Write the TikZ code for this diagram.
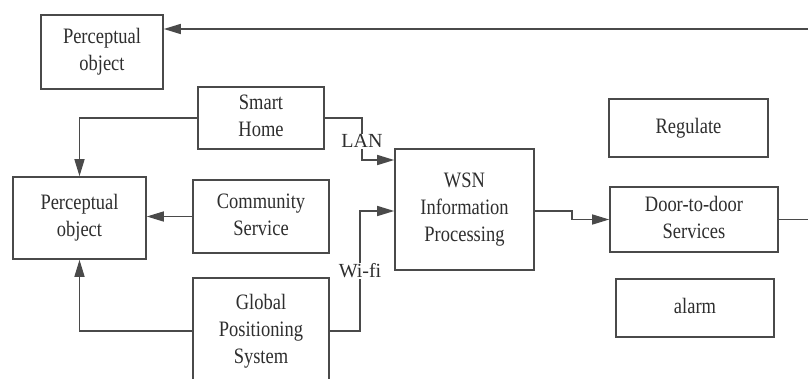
\documentclass[tikz,border=0pt]{standalone}
\usepackage{fontspec}
\usepackage{graphicx}
\setmainfont{Liberation Serif}
\usetikzlibrary{arrows.meta,calc}
\definecolor{ink}{HTML}{2E2E2E}
\definecolor{wire}{HTML}{4A4A4A}
\newcommand\boxtext[1]{\scalebox{0.84}[1]{\begin{tabular}{@{}c@{}}#1\end{tabular}}}
\tikzset{
  blk/.style={draw=wire, line width=1.6pt, fill=white, inner sep=0pt,
    text=ink, font=\fontsize{22}{27}\selectfont},
  link/.style={draw=wire, line width=1.5pt},
  arr/.style={link, -{Triangle[length=17pt,width=10pt]}},
  tag/.style={fill=white, inner sep=1pt, text=ink, font=\fontsize{20}{24}\selectfont}
}
\begin{document}
\begin{tikzpicture}[x=1pt,y=-1pt]
  \useasboundingbox (0,0) rectangle (808,378);
  \clip (0,0) rectangle (808,378);
  \fill[white] (0,0) rectangle (808,378);

  % blocks
  \node[blk, minimum width=122, minimum height=74] (p1) at (102,52) {\boxtext{Perceptual\\object}};
  \node[blk, minimum width=126, minimum height=62] (sh) at (261,118) {\boxtext{Smart\\Home}};
  \node[blk, minimum width=133, minimum height=82] (p2) at (79.5,218) {\boxtext{Perceptual\\object}};
  \node[blk, minimum width=136, minimum height=73] (cs) at (261,216.5) {\boxtext{Community\\Service}};
  \node[blk, minimum width=136, minimum height=106] (gps) at (261,331) {\boxtext{Global\\Positioning\\System}};
  \node[blk, minimum width=139, minimum height=121] (wsn) at (464.5,209.5) {\boxtext{WSN\\Information\\Processing}};
  \node[blk, minimum width=159, minimum height=58] (reg) at (688.5,128) {\boxtext{Regulate}};
  \node[blk, minimum width=168, minimum height=65] (door) at (694,219.5) {\boxtext{Door-to-door\\Services}};
  \node[blk, minimum width=158, minimum height=58] (alarm) at (695,308) {\boxtext{alarm}};

  % free ends at the right border
  \coordinate (edgeTop) at (808,29);
  \coordinate (edgeDoor) at (808,219.5);

  % feedback to the upper perceptual object
  \draw[arr] (edgeTop) -- (edgeTop -| p1.east);
  \draw[link] (door.east) -- (edgeDoor);

  % sources to the lower perceptual object
  \draw[arr] (sh.west) -| (p2.north);
  \draw[arr] (cs.west) -- (cs.west -| p2.east);
  \draw[arr] (gps.west) -| (p2.south);

  % sources to WSN processing
  \draw[arr] (sh.east) -- (362,118) -- node[tag, pos=0.55] {LAN} (362,160) -- (362,160 -| wsn.west);
  \draw[arr] (gps.east) -- (360,331) -- node[tag, pos=0.5] {Wi-fi} (360,211) -- (360,211 -| wsn.west);

  % WSN processing to services
  \draw[arr] (wsn.east |- 0,211) -- (572,211) -- (572,219.5) -- (door.west);
\end{tikzpicture}
\end{document}
